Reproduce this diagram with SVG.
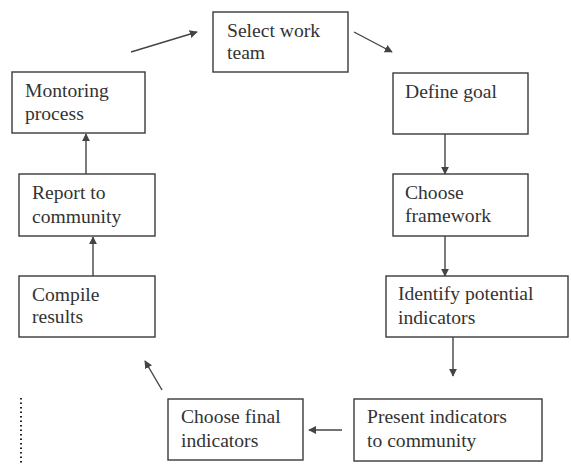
<svg xmlns="http://www.w3.org/2000/svg" width="571" height="464" viewBox="0 0 571 464">
<style>
.box{fill:#fff;stroke:#3a3a3a;stroke-width:1.4}
.t{font-family:"Liberation Serif","DejaVu Serif",serif;font-size:19.6px;fill:#333}
.c{stroke:#444;stroke-width:1.4;fill:none;marker-end:url(#ah)}
</style>
<defs>
<marker id="ah" viewBox="0 0 10 10" refX="9" refY="5" markerWidth="8" markerHeight="8" markerUnits="userSpaceOnUse" orient="auto">
<path d="M0,0 L10,5 L0,10 Z" fill="#444"/>
</marker>
</defs>
<rect width="571" height="464" fill="#fff"/>
<g id="n-select"><rect class="box" x="213" y="12" width="135" height="60"/><text class="t" x="227" y="37">Select work</text><text class="t" x="227" y="59">team</text></g>
<g id="n-define"><rect class="box" x="393" y="73" width="135" height="61"/><text class="t" x="405" y="98">Define goal</text></g>
<g id="n-framework"><rect class="box" x="393" y="174" width="135" height="62"/><text class="t" x="405" y="199">Choose</text><text class="t" x="405" y="222">framework</text></g>
<g id="n-identify"><rect class="box" x="386" y="276" width="182" height="61"/><text class="t" x="398" y="300">Identify potential</text><text class="t" x="398" y="324">indicators</text></g>
<g id="n-present"><rect class="box" x="354" y="399" width="188" height="62"/><text class="t" x="367" y="423">Present indicators</text><text class="t" x="367" y="447">to community</text></g>
<g id="n-final"><rect class="box" x="168" y="399" width="135" height="61"/><text class="t" x="181" y="423">Choose final</text><text class="t" x="181" y="447">indicators</text></g>
<g id="n-compile"><rect class="box" x="19" y="276" width="136" height="61"/><text class="t" x="32" y="301">Compile</text><text class="t" x="32" y="323">results</text></g>
<g id="n-report"><rect class="box" x="19" y="174" width="136" height="62"/><text class="t" x="32" y="199">Report to</text><text class="t" x="32" y="223">community</text></g>
<g id="n-monitor"><rect class="box" x="12" y="72" width="133" height="61"/><text class="t" x="25" y="97">Montoring</text><text class="t" x="25" y="120">process</text></g>
<g id="connectors">
<line class="c" x1="131" y1="52" x2="197" y2="32"/>
<line class="c" x1="354" y1="32" x2="392" y2="52"/>
<line class="c" x1="445" y1="134" x2="445" y2="174"/>
<line class="c" x1="445" y1="236" x2="445" y2="276"/>
<line class="c" x1="453" y1="337" x2="453" y2="376"/>
<line class="c" x1="342" y1="430" x2="309" y2="430"/>
<line class="c" x1="162" y1="390" x2="145" y2="361"/>
<line class="c" x1="93" y1="276" x2="93" y2="237"/>
<line class="c" x1="86" y1="174" x2="86" y2="134"/>
</g>
<line x1="21" y1="398" x2="21" y2="464" stroke="#222" stroke-width="2" stroke-dasharray="1.5 3"/>
</svg>
